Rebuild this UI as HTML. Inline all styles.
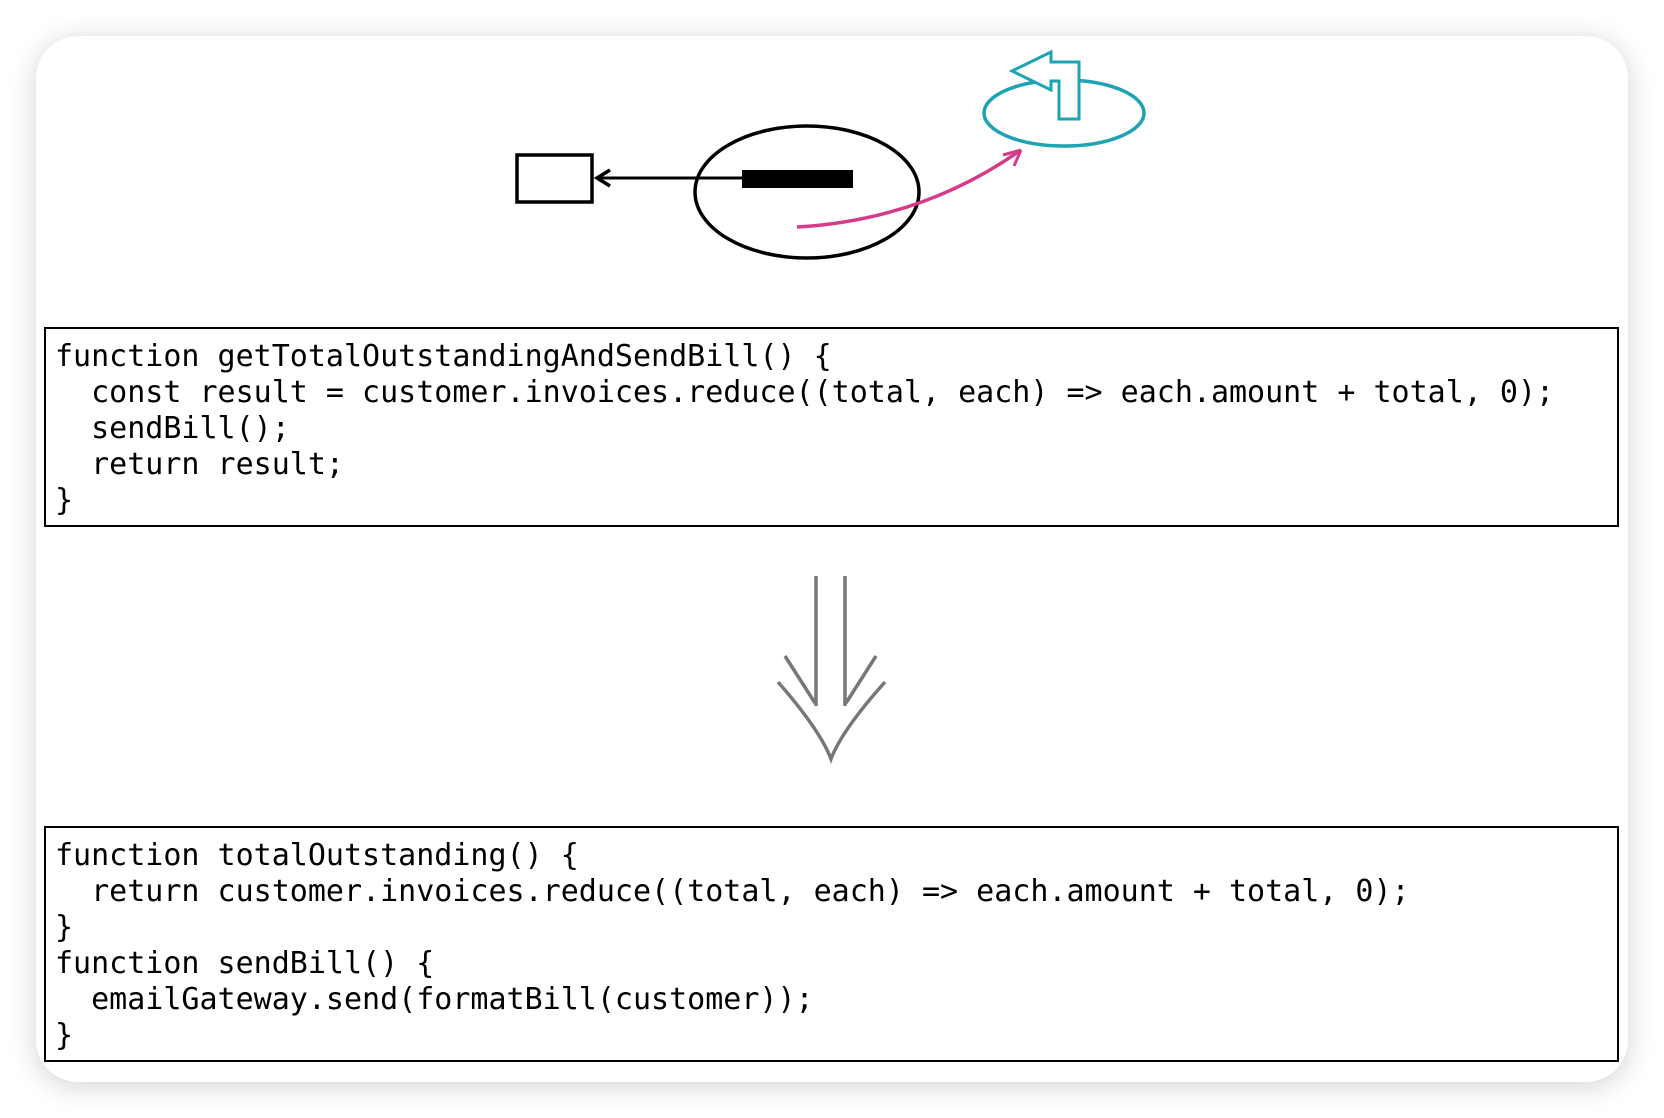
<!DOCTYPE html>
<html><head><meta charset="utf-8"><style>
html,body{margin:0;padding:0;background:#fff;width:1664px;height:1118px;overflow:hidden}
.card{position:absolute;left:36px;top:36px;width:1592px;height:1046px;border-radius:42px;background:#fff;box-shadow:0 4px 28px rgba(0,0,0,0.18)}
.code{position:absolute;left:44px;width:1575px;border:2.5px solid #000;font-family:"DejaVu Sans Mono","Liberation Mono",monospace;font-size:30px;line-height:36px;color:#000;white-space:pre;padding:10px 0 0 9px;box-sizing:border-box}
svg{position:absolute;left:0;top:0}
</style></head><body>
<div class="card"></div>
<svg width="1664" height="1118">
<rect x="517" y="155" width="75" height="47" fill="none" stroke="#000" stroke-width="3.5"/>
<line x1="745" y1="178" x2="598" y2="178" stroke="#000" stroke-width="3"/>
<path d="M610 170 L597 178 L610 186" fill="none" stroke="#000" stroke-width="3.5"/>
<ellipse cx="807" cy="192" rx="112" ry="66" fill="none" stroke="#000" stroke-width="3.5"/>
<rect x="742" y="170" width="111" height="18" fill="#000"/>
<path d="M797 227 Q920 220 1018 152" fill="none" stroke="#d63b8a" stroke-width="3.5"/>
<path d="M1021 150 L1003 155 M1021 150 L1014 166" fill="none" stroke="#d63b8a" stroke-width="3"/>
<ellipse cx="1064" cy="113" rx="80" ry="33" fill="none" stroke="#1ea3b5" stroke-width="3.5"/>
<path d="M1012 71 L1051 52 L1051 62 L1079 62 L1079 119 L1059 119 L1059 81 L1051 81 L1051 90 Z" fill="#fff" stroke="#1ea3b5" stroke-width="3" stroke-linejoin="miter"/>
<g stroke="#777" stroke-width="3.5" fill="none">
<line x1="816" y1="576" x2="816" y2="706"/>
<line x1="845" y1="576" x2="845" y2="706"/>
<path d="M778 682 Q820 730 831 759 Q842 730 885 682"/>
<line x1="785" y1="656" x2="815" y2="703"/>
<line x1="876" y1="656" x2="846" y2="703"/>
</g>
</svg>
<div class="code" style="top:327px;height:200px">function getTotalOutstandingAndSendBill() {
  const result = customer.invoices.reduce((total, each) =&gt; each.amount + total, 0);
  sendBill();
  return result;
}</div>
<div class="code" style="top:826px;height:236px">function totalOutstanding() {
  return customer.invoices.reduce((total, each) =&gt; each.amount + total, 0);
}
function sendBill() {
  emailGateway.send(formatBill(customer));
}</div>
</body></html>
